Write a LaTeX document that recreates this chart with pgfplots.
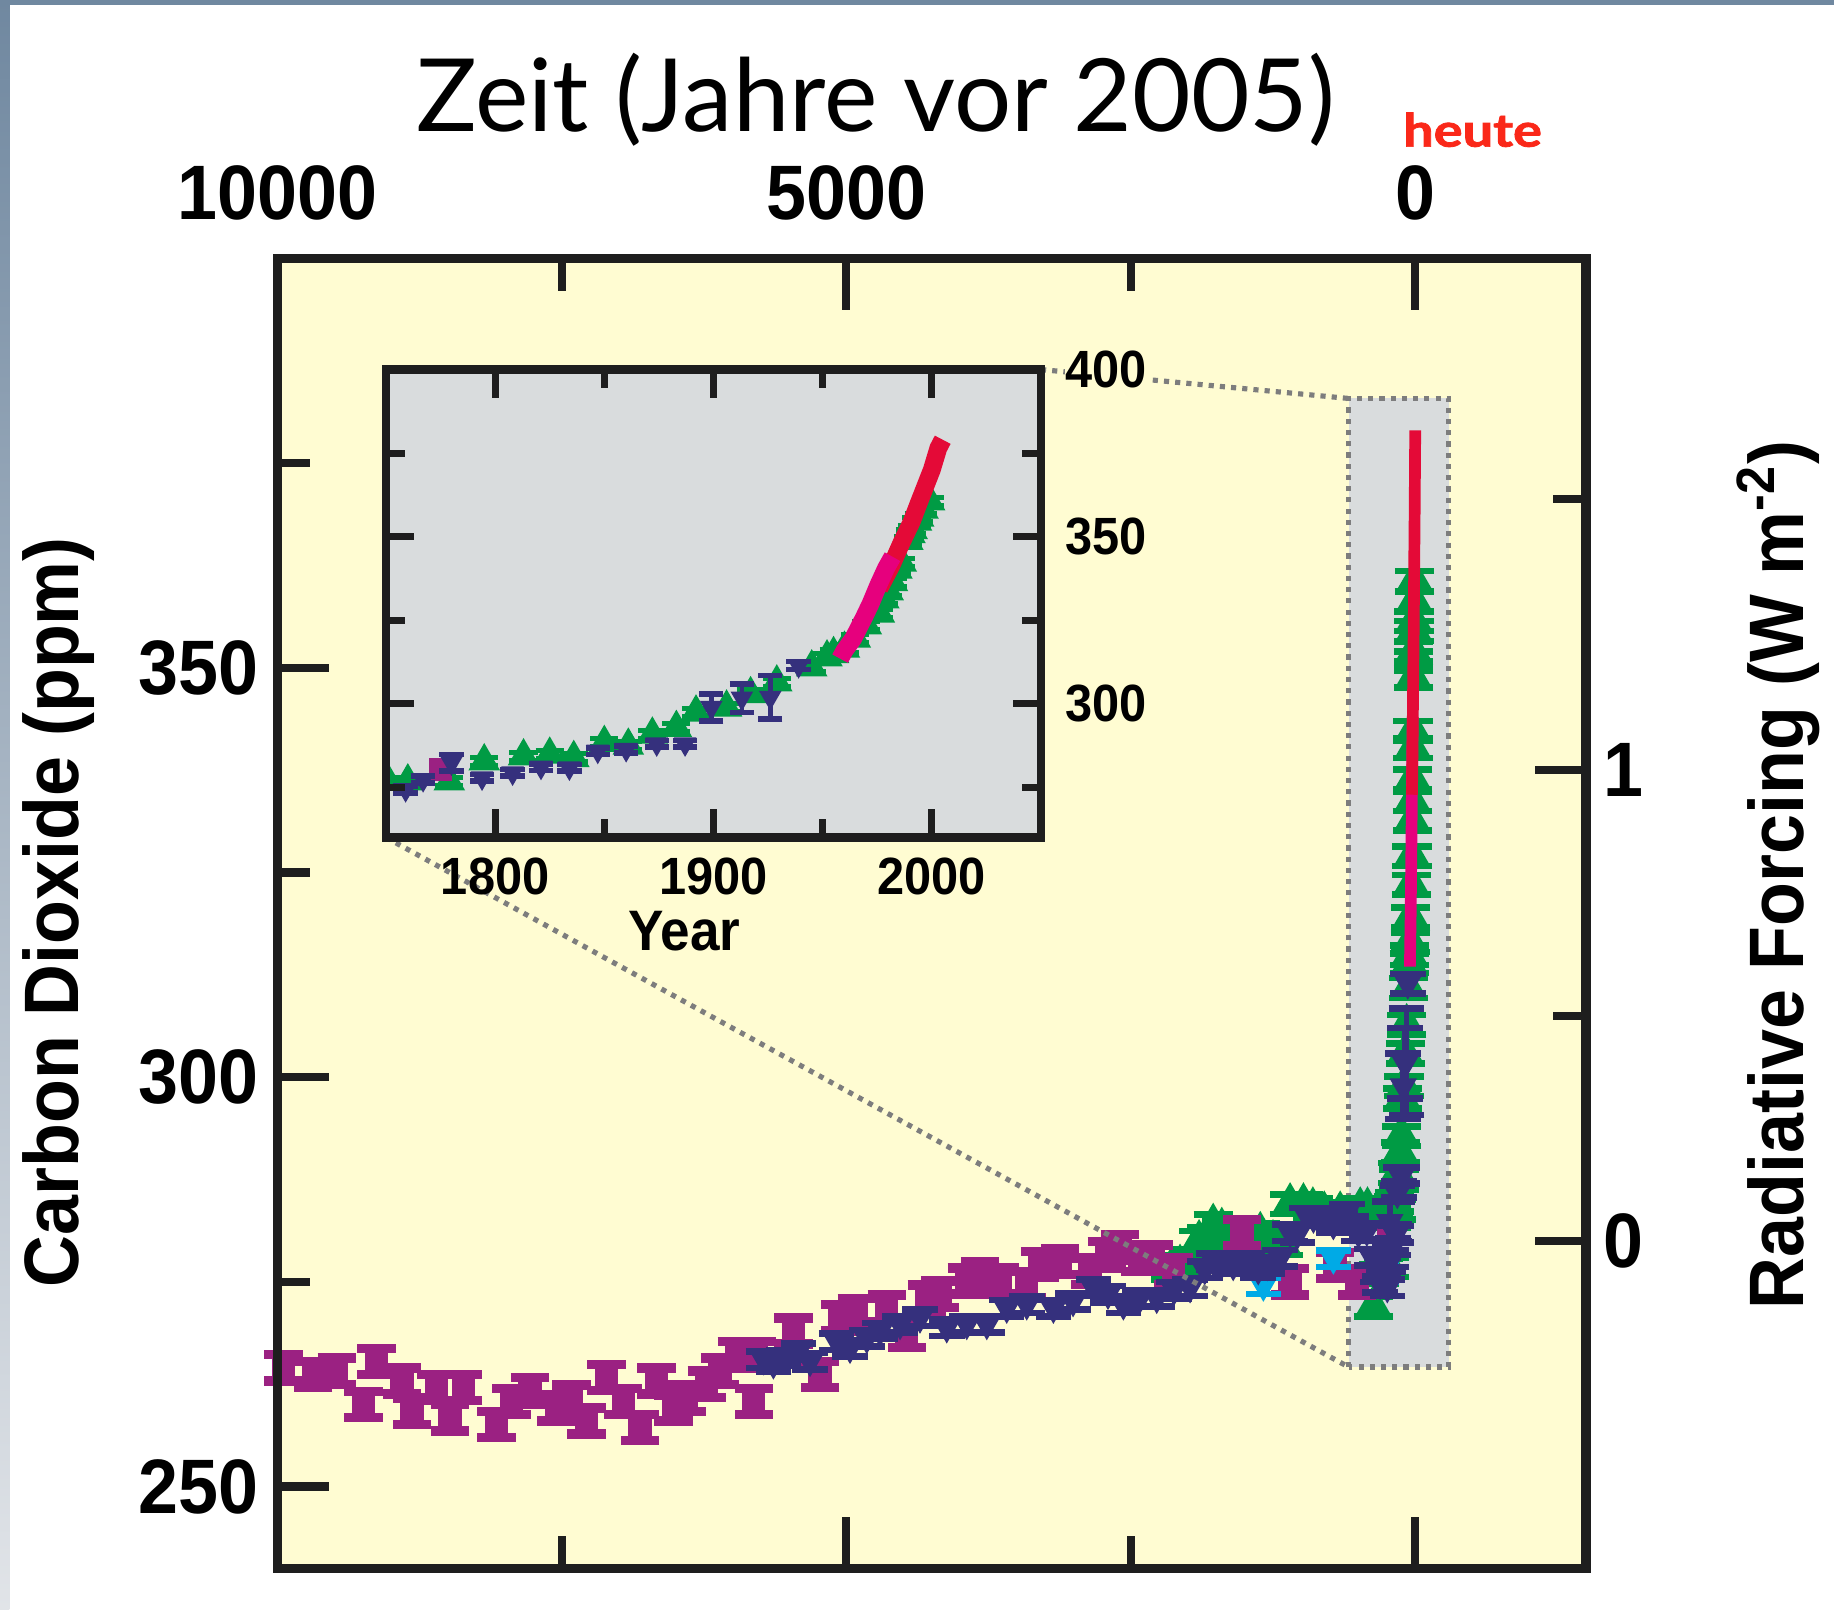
\documentclass[border=0pt]{standalone}
\usepackage{pgfplots}
\pgfplotsset{compat=1.18}
\usepackage{pgfplotstable}
\usepackage{graphicx}
\usepackage{fontspec}
\setmainfont{Liberation Sans}
\newfontfamily\titlefont{Lato}
\newfontfamily\heutefont{Lato}[BoldFeatures={FakeBold=1.6}]

\definecolor{bgyellow}{RGB}{255,252,210}
\definecolor{bggrey}{RGB}{217,220,221}
\definecolor{cframe}{RGB}{30,30,30}
\definecolor{cmag}{RGB}{155,33,130}
\definecolor{cblue}{RGB}{53,48,125}
\definecolor{cgreen}{RGB}{0,155,68}
\definecolor{ccyan}{RGB}{0,170,230}
\definecolor{cred}{RGB}{228,10,55}
\definecolor{cpink}{RGB}{230,0,125}
\definecolor{cdot}{RGB}{125,125,125}
\definecolor{cheute}{RGB}{250,40,25}
\definecolor{cslate}{RGB}{112,136,160}
\definecolor{clight}{RGB}{225,228,232}

\newcommand\sq[1]{\scalebox{0.93}[1]{#1}}

% ---------- data: years before 2005 (main panel) ----------
\pgfplotstableread{
bp co2
9946 264.5
9683 263.7
9477 264.1
9243 260.0
9126 265.3
8904 262.9
8816 259.2
8599 262.1
8482 258.4
8365 262.1
8072 257.6
7941 260.4
7779 261.7
7545 259.6
7414 260.8
7281 258.0
7105 263.3
6959 260.4
6812 257.2
6666 262.9
6519 259.6
6402 260.8
6226 262.5
6109 264.1
5962 266.1
5813 260.4
5787 266.1
5465 269.0
5230 263.7
5054 270.6
4908 271.4
4644 271.8
4468 268.6
4293 273.0
4176 273.5
3941 275.1
3824 275.9
3648 275.1
3414 274.7
3297 277.1
3121 277.5
2858 276.3
2711 278.3
2594 279.2
2418 277.9
2301 277.9
2126 276.3
1522 281.0
1100 275.0
705 277.0
513 275.0
}\magmain

\pgfplotstableread{
bp co2
5725 265.5
5640 265.0
5553 265.7
5420 266.5
5318 265.3
5084 267.7
4967 266.9
4820 268.1
4704 269.0
4527 269.8
4352 270.6
4117 269.4
3941 269.8
3765 269.8
3590 271.8
3414 272.2
3180 271.8
3007 272.6
2828 274.3
2700 273.5
2565 272.2
2420 273.0
2272 273.0
2120 274.0
1979 274.3
1850 276.5
1774 277.5
1688 277.5
1600 277.0
1481 277.5
1380 276.5
1300 277.0
1188 277.9
1100 281.0
1037 280.8
950 283.0
895 282.8
800 283.0
720 282.0
661 282.8
600 283.5
560 282.0
500 281.0
426 281.2
380 278.0
330 276.0
309 274.7
280 277.0
}\bluemain

\pgfplotstableread{
bp co2
2150 276.5
2067 277.0
1979 277.8
1900 280.0
1832 280.5
1776 282.0
1700 281.5
1627 278.0
1560 279.0
1450 280.0
1362 281.0
1250 280.0
1160 279.5
1100 284.5
983 284.5
900 284.0
800 283.5
660 283.5
484 284.0
420 284.0
368 272.0
320 276.0
282 279.0
}\greenmain

\pgfplotstableread{
bp co2
1335 274.5
720 277.8
300 276.0
}\cyanmain

% ---------- data: calendar years (inset, and main via 2005-year) ----------
\pgfplotstableread{
year co2 err
1751 276.8 1.2
1760 276.8 1.2
1779 276.8 1.2
1795 282.8 1.2
1813 284.3 1.2
1825 284.8 1.2
1836 283.8 1.2
1850 288.3 1.2
1861 287.5 1.2
1872 290.8 1.2
1883 292.8 1.2
1892 297.4 1.2
1906 298.9 1.2
1917 302.9 1.2
1929 306.4 1.2
1945 310.9 1.2
1952 313.9 1.2
1955 314.9 1.2
1960 316.5 1.2
1965 319.5 1.2
1970 323.5 1.2
1976 327.0 1.2
1978 331.3 1.2
1980 333.7 1.2
1982 336.4 1.2
1984 340.2 1.2
1986 342.3 1.2
1989 348.8 1.2
1990 350.8 1.2
1991 352.0 1.2
1993 354.5 1.2
1994 355.7 1.2
1996 358.1 1.2
1999 360.6 1.2
}\greenAD

\pgfplotstableread{
year co2 err
1759 274.3 1.0
1767 277.3 1.0
1780 282.3 2.5
1794 277.8 1.0
1808 279.3 1.0
1821 281.0 1.0
1834 280.8 1.0
1847 285.8 1.0
1860 286.3 1.0
1874 288.0 1.0
1887 288.0 1.0
1899 298.9 4.0
1913 301.7 4.3
1926 301.9 6.5
1939 311.4 1.2
}\blueAD

\pgfplotstableread{
year co2
1775 280.3
}\magAD

\pgfplotstableread{
year co2
1958 313.5
1960 315.9
1964 319.5
1969 325.9
1972 330.0
1975.5 335.5
1979 340.5
1982 344.0
}\pinkAD

\pgfplotstableread{
year co2
1976 334.5
1981.6 341.5
1986 348.0
1990.8 354.5
1994 360.0
1997 365.0
2000 370.0
2003 376.5
2005 379.0
}\redAD

\tikzset{
  dotline/.style={draw=cdot, line width=1.1pt, dash pattern=on 1.1pt off 1.3pt},
  bigtick/.style={font=\fontsize{16.5}{18}\selectfont\bfseries},
}

\pgfplotsset{
  mm/.style={only marks, color=cmag, mark=square*, mark size=2.3pt,
    error bars/y dir=both, error bars/y fixed=1.6,
    error bars/error bar style={line width=1.2pt, cmag},
    error bars/error mark options={rotate=90, line width=2pt, mark size=4.1pt, cmag}},
  bm/.style={only marks, color=#1, mark=triangle*, mark size=3pt, mark options={rotate=180},
    error bars/y dir=both, error bars/y fixed=1.0,
    error bars/error bar style={line width=1.2pt, #1},
    error bars/error mark options={rotate=90, line width=1.4pt, mark size=3.8pt, #1}},
  gm/.style={only marks, color=cgreen, mark=triangle*, mark size=4.3pt,
    error bars/y dir=both, error bars/y fixed=1.2,
    error bars/error bar style={line width=1.2pt, cgreen},
    error bars/error mark options={rotate=90, line width=1.4pt, mark size=4.2pt, cgreen}},
  gi/.style={only marks, color=cgreen, mark=triangle*, mark size=3.5pt,
    error bars/y dir=both, error bars/y explicit,
    error bars/error bar style={line width=1pt, cgreen},
    error bars/error mark options={rotate=90, line width=1.1pt, mark size=3pt, cgreen}},
  bi/.style={only marks, color=cblue, mark=triangle*, mark size=2.4pt, mark options={rotate=180},
    error bars/y dir=both, error bars/y explicit,
    error bars/error bar style={line width=1pt, cblue},
    error bars/error mark options={rotate=90, line width=1.2pt, mark size=2.6pt, cblue}},
}

\begin{document}
\begin{tikzpicture}
\useasboundingbox (0,0) rectangle (392pt,344pt);
\fill[white] (0,0) rectangle (392pt,344pt);
\shade[top color=cslate, bottom color=clight] (0,0) rectangle (2pt,344pt);
\fill[cslate] (0,343pt) rectangle (392pt,344pt);

% ---------------- main axis ----------------
\begin{axis}[
  at={(59.25pt,8.75pt)}, anchor=south west, scale only axis,
  width=279.75pt, height=280pt,
  x dir=reverse, xmin=-1500, xmax=10000, ymin=240, ymax=400,
  clip=false, clip marker paths=true, axis on top,
  axis background/.style={fill=bgyellow},
  axis line style={line width=2pt, cframe},
  scaled x ticks=false, scaled y ticks=false,
  xtick={0,5000,10000}, xticklabels={\sq{0},\sq{5000},\sq{10000}},
  minor xtick={2500,7500},
  xtick pos=both, xticklabel pos=upper,
  ytick={250,300,350}, yticklabels={\sq{250},\sq{300},\sq{350}},
  minor ytick={275,325,375}, ytick pos=left,
  major tick length=11pt, minor tick length=7pt,
  tick style={line width=1.75pt, cframe},
  tick label style={bigtick, inner sep=0pt},
  xticklabel style={anchor=base, yshift=8.25pt},
  yticklabel style={anchor=east, xshift=-3.75pt},
]
\fill[bggrey] (axis cs:586,264.6) rectangle (axis cs:-293,382.9);
\draw[dotline] (axis cs:586,264.6) rectangle (axis cs:-293,382.9);
\coordinate (bTL) at (axis cs:586,382.9);
\coordinate (bBL) at (axis cs:586,264.6);

\addplot[gm] table[x=bp, y=co2] {\greenmain};
\addplot[gm, error bars/y explicit] table[x expr=2005-\thisrow{year}, y=co2, y error=err] {\greenAD};
\addplot[mm] table[x=bp, y=co2] {\magmain};
\addplot[mm] table[x expr=2005-\thisrow{year}, y=co2] {\magAD};
\addplot[bm=ccyan] table[x=bp, y=co2] {\cyanmain};
\addplot[bm=cblue] table[x=bp, y=co2] {\bluemain};
\addplot[bm=cblue, error bars/y explicit] table[x expr=2005-\thisrow{year}, y=co2, y error=err] {\blueAD};
\addplot[no marks, cpink, line width=2.5pt] table[x expr=2005-\thisrow{year}, y=co2] {\pinkAD};
\addplot[no marks, cred, line width=2.5pt] table[x expr=2005-\thisrow{year}, y=co2] {\redAD};
\end{axis}

% ---------------- right axis (radiative forcing) ----------------
\begin{axis}[
  at={(59.25pt,8.75pt)}, anchor=south west, scale only axis,
  width=279.75pt, height=280pt,
  xmin=0, xmax=1, ymin=240, ymax=400,
  hide x axis,
  axis line style={line width=2pt, cframe},
  ytick pos=right, yticklabel pos=right,
  ytick={280,337.545}, yticklabels={\sq{0},\sq{1}},
  minor ytick={307.43,370.61},
  major tick length=11pt, minor tick length=7pt,
  tick style={line width=1.75pt, cframe},
  tick label style={bigtick, inner sep=0pt},
  yticklabel style={anchor=west, xshift=3.5pt},
]
\end{axis}

% dotted zoom lines
\draw[dotline] (222.5pt,265pt) -- (bTL);
\draw[dotline] (82.5pt,165pt) -- (bBL);

% ---------------- inset ----------------
\begin{axis}[
  at={(82.5pt,165pt)}, anchor=south west, scale only axis,
  width=140pt, height=100pt,
  xmin=1750, xmax=2050, ymin=260, ymax=400,
  clip marker paths=true, axis on top,
  axis background/.style={fill=bggrey},
  axis line style={line width=1.75pt, cframe},
  scaled x ticks=false, scaled y ticks=false,
  xtick={1800,1900,2000}, xticklabels={\sq{1800},\sq{1900},\sq{2000}},
  minor xtick={1850,1950},
  ytick={300,350,400}, yticklabels={\sq{300},\sq{350},\sq{400}},
  minor ytick={275,325,375},
  yticklabel pos=right,
  major tick length=6pt, minor tick length=4pt,
  tick style={line width=1.5pt, cframe},
  tick label style={font=\fontsize{11.2}{13}\selectfont\bfseries, inner sep=0pt},
  xticklabel style={anchor=north, yshift=-4.25pt},
  yticklabel style={anchor=west, xshift=5pt, fill=bgyellow},
]
\addplot[gi] table[x=year, y=co2, y error=err] {\greenAD};
\addplot[only marks, cmag, mark=square*, mark size=2.2pt] table[x=year, y=co2] {\magAD};
\addplot[bi] table[x=year, y=co2, y error=err] {\blueAD};
\addplot[no marks, cred, line width=3.8pt] table[x=year, y=co2] {\redAD};
\addplot[no marks, cpink, line width=3.8pt] table[x=year, y=co2] {\pinkAD};
\end{axis}

\node[anchor=north, inner sep=0pt, font=\fontsize{12.2}{14}\selectfont\bfseries] at (146.25pt,149.5pt) {\sq{Year}};

% titles and labels
\node[anchor=base, inner sep=0pt, font=\titlefont\fontsize{21.6}{24}\selectfont] at (187.25pt,315.85pt) {Zeit (Jahre vor 2005)};
\node[anchor=base, inner sep=0pt, text=cheute, font=\heutefont\bfseries\fontsize{9.8}{11}\selectfont] at (314.75pt,312.65pt) {\scalebox{1.18}[1]{heute}};
\node[rotate=90, anchor=base, inner sep=0pt, bigtick] at (16.75pt,149pt) {\sq{Carbon Dioxide (ppm)}};
\node[rotate=90, anchor=base, inner sep=0pt, bigtick] at (385.5pt,157pt) {\sq{Radiative Forcing (W m\textsuperscript{-2})}};
\end{tikzpicture}
\end{document}
